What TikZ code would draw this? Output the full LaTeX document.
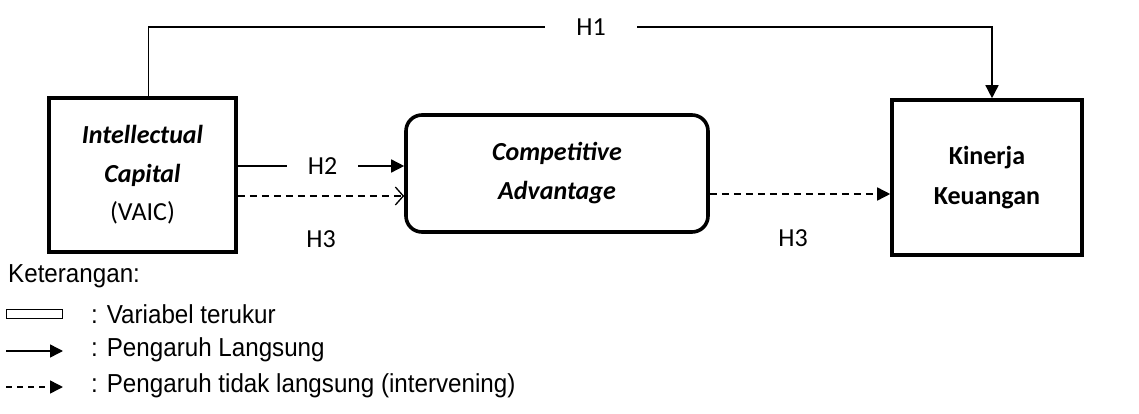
\documentclass[tikz,border=0pt]{standalone}
\usepackage{fontspec}
\setmainfont{Carlito}
\newfontfamily\legfont[FakeStretch=0.93]{Liberation Sans}
\usetikzlibrary{arrows.meta,calc}
\tikzset{
  varbox/.style={draw, line width=3.6pt, minimum width=187pt, minimum height=154pt, align=center, inner sep=0pt, font=\fontsize{26}{38.5}\selectfont},
  cpbox/.style={draw, line width=3.6pt, rounded corners=16pt, minimum width=302pt, minimum height=117pt, align=center, inner sep=0pt, font=\fontsize{26}{39}\selectfont},
  hlab/.style={font=\fontsize{26}{30}\selectfont, inner sep=0pt},
  conn/.style={line width=1.5pt},
  tipfill/.style={-{Triangle[length=13pt,width=13pt]}},
  tipopen/.style={-{Straight Barb[length=8pt,width=18pt,line width=1.3pt]}},
  dsh/.style={dash pattern=on 7pt off 5pt},
  legtext/.style={font=\legfont\fontsize{26}{30}\selectfont, anchor=west, inner sep=0pt},
}
\begin{document}
\begin{tikzpicture}[x=1pt,y=-1pt]
\useasboundingbox (0,0) rectangle (1139,414);

% nodes
\node[varbox] (ic) at (142.5,175) {\textbf{\textit{Intellectual}}\\\textbf{\textit{Capital}}\\(VAIC)};
\node[cpbox] (cp) at (557,173.5) {\textbf{\textit{Competitive}}\\\textbf{\textit{Advantage}}};
\node[varbox, minimum width=190pt, minimum height=155pt, font=\fontsize{26}{40}\selectfont] (kk) at (987,177.5) {\textbf{Kinerja}\\\textbf{Keuangan}};

% H1
\node[hlab, minimum width=92pt] (h1) at (591,27) {H1};
\coordinate (h1r) at (992,27);
\draw[conn] ($(ic.north west)!0.531!(ic.north east)$) |- (h1.west);
\draw[conn, tipfill] (h1.east) -- (h1r) -- (h1r |- kk.north);

% H2
\node[hlab, minimum width=71pt] (h2) at (322.5,166) {H2};
\draw[conn] (ic.east |- h2.west) -- (h2.west);
\draw[conn, tipfill] (h2.east) -- (cp.west |- h2.east);

% H3 left (dashed, open tip)
\coordinate (d1) at (236,196);
\draw[conn, dsh, tipopen] (ic.east |- d1) -- (cp.west |- d1);
\node[hlab] (h3a) at (321,239) {H3};

% H3 right
\coordinate (d2) at (708,194);
\draw[conn, dsh, tipfill] (cp.east |- d2) -- (kk.west |- d2);
\node[hlab] (h3b) at (793,238) {H3};

% Legend
\node[legtext] (ket) at (8,276) {Keterangan:};
\node[draw, line width=1pt, minimum width=56pt, minimum height=9pt, inner sep=0pt, anchor=west] (lrect) at (6,313.5) {};
\node[legtext] (l1) at (91,314) {: Variabel terukur};
\coordinate (la1) at (6,351);
\coordinate (la2) at (63,351);
\draw[conn, tipfill] (la1) -- (la2);
\node[legtext] (l2) at (91,350) {: Pengaruh Langsung};
\coordinate (lb1) at (6,387);
\coordinate (lb2) at (63,387);
\draw[conn, dash pattern=on 6pt off 5pt, tipfill] (lb1) -- (lb2);
\node[legtext] (l3) at (91,386) {: Pengaruh tidak langsung (intervening)};
\end{tikzpicture}
\end{document}
